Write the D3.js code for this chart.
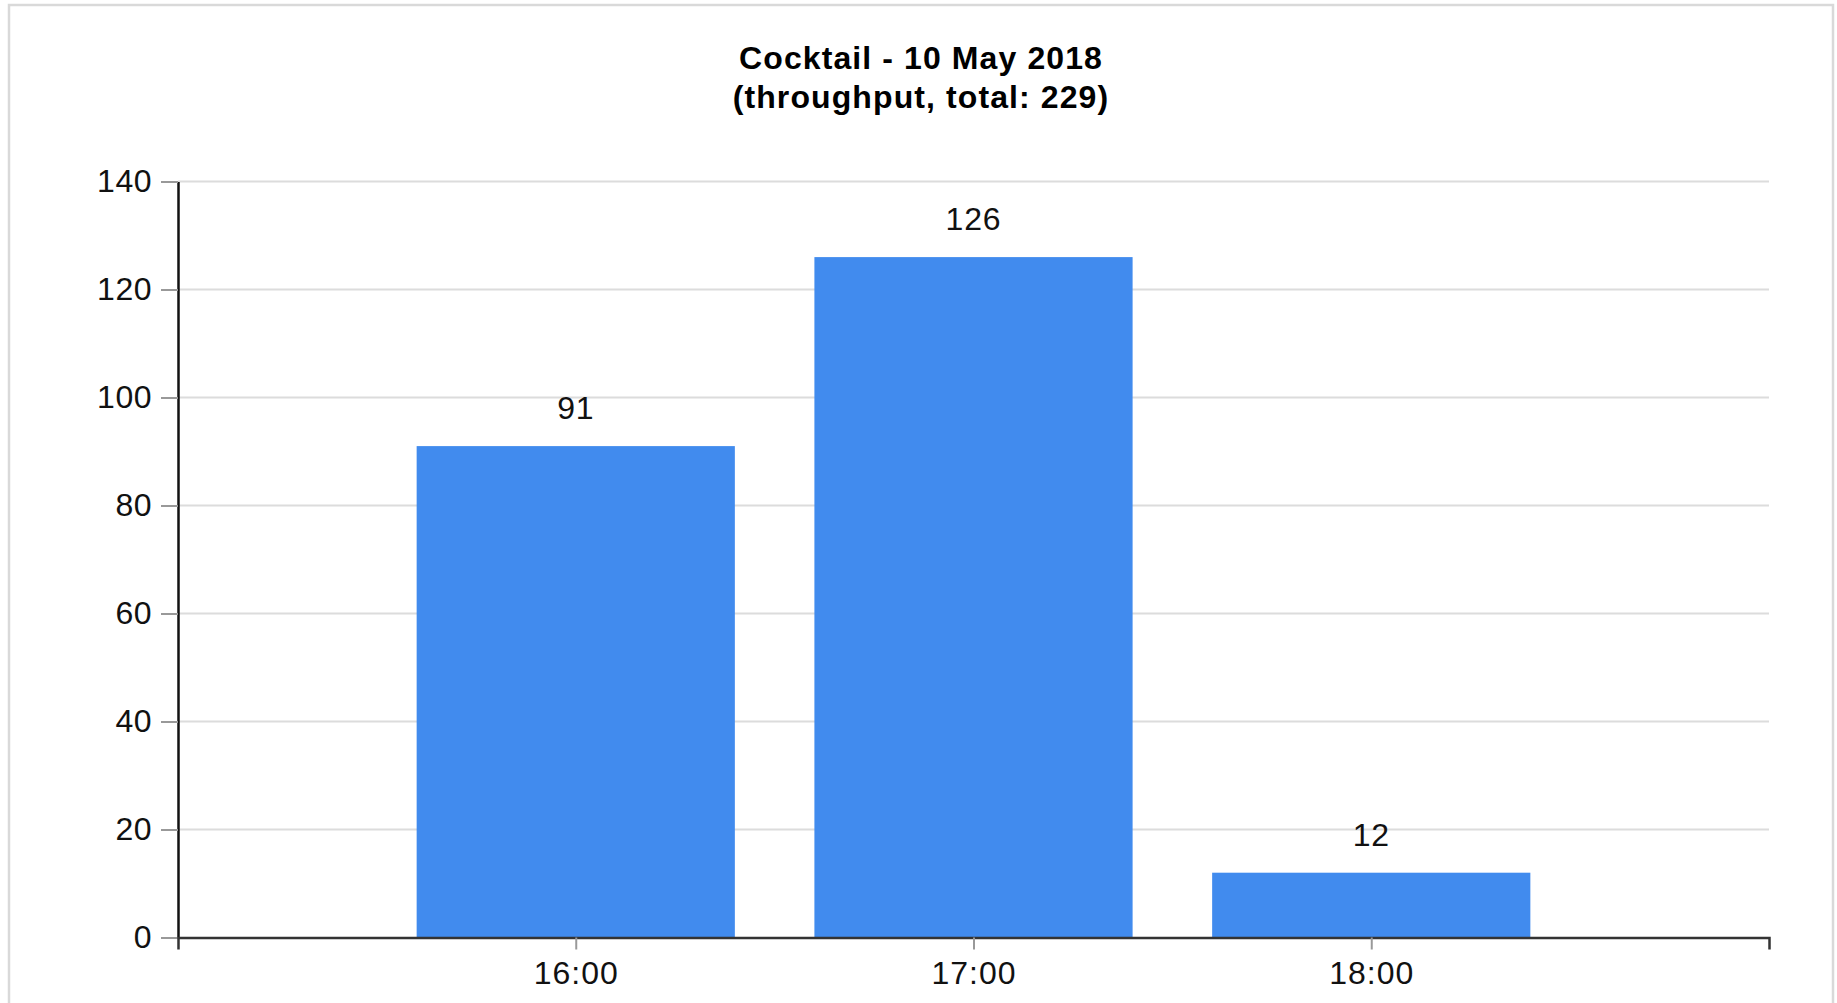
<!DOCTYPE html>
<html>
<head>
<meta charset="utf-8">
<script src="https://cdn.jsdelivr.net/npm/d3@7"></script>
<style>
  html, body { margin: 0; padding: 0; background: #fff; }
  svg { display: block; }
  text { font-family: "Liberation Sans", Arial, sans-serif; }
</style>
</head>
<body>
<svg id="chart" width="1837" height="1003"></svg>
<script>
const titleLines = ["Cocktail - 10 May 2018", "(throughput, total: 229)"];
const hours = [16, 17, 18];
const hourLabels = ["16:00", "17:00", "18:00"];
const values = [91, 126, 12];
const yTicks = [0, 20, 40, 60, 80, 100, 120, 140];

const W = 1837, H = 1003;
const plot = { left: 178, right: 1769, top: 181.5, bottom: 937.5 };
const FS = 32;

const svg = d3.select("#chart");

// outer frame
svg.append("rect")
  .attr("x", 9).attr("y", 5)
  .attr("width", 1824).attr("height", 1020)
  .attr("fill", "#fff").attr("stroke", "#d9d9d9").attr("stroke-width", 2.5);

const x = d3.scaleLinear().domain([15, 19]).range([plot.left, plot.right]);
const y = d3.scaleLinear().domain([0, 140]).range([plot.bottom, plot.top]);
const step = x(16) - x(15);
const barW = step * 0.8;

// title
const title = svg.append("text")
  .attr("text-anchor", "middle")
  .attr("font-weight", "bold")
  .attr("font-size", 32)
  .attr("letter-spacing", 1.1)
  .attr("fill", "#000");
titleLines.forEach((t, i) => {
  title.append("tspan").attr("x", 921).attr("y", 69 + i * 39).text(t);
});

// grid lines
svg.append("g").selectAll("line")
  .data(yTicks.filter(d => d > 0))
  .join("line")
  .attr("x1", plot.left).attr("x2", plot.right)
  .attr("y1", d => y(d)).attr("y2", d => y(d))
  .attr("stroke", "#dcdcdc").attr("stroke-width", 2);

// bars
svg.append("g").selectAll("rect")
  .data(values)
  .join("rect")
  .attr("x", (d, i) => x(hours[i]) - barW / 2)
  .attr("y", d => y(d))
  .attr("width", barW)
  .attr("height", d => y(0) - y(d))
  .attr("fill", "#418bee");

// value labels
svg.append("g").selectAll("text")
  .data(values)
  .join("text")
  .attr("x", (d, i) => x(hours[i]))
  .attr("y", d => y(d) - 27)
  .attr("text-anchor", "middle")
  .attr("font-size", FS)
  .attr("letter-spacing", 0.8)
  .attr("fill", "#111")
  .text(d => d);

// y axis
const yAxis = d3.axisLeft(y).tickValues(yTicks).tickSize(17).tickSizeOuter(0).tickPadding(9);
const gy = svg.append("g").attr("transform", `translate(${plot.left},0)`).call(yAxis);
gy.selectAll(".tick line").attr("stroke", "#999").attr("stroke-width", 2);
gy.select(".domain").attr("stroke", "#111").attr("stroke-width", 2.5);
gy.selectAll(".tick text").attr("font-size", FS).attr("letter-spacing", 0.5).attr("fill", "#111").attr("font-family", "Liberation Sans, Arial, sans-serif");

// x axis
const xAxis = d3.axisBottom(x).tickValues(hours).tickFormat((d, i) => hourLabels[i])
  .tickSize(12).tickSizeOuter(12).tickPadding(12);
const gx = svg.append("g").attr("transform", `translate(0,${plot.bottom})`).call(xAxis);
gx.selectAll(".tick line").attr("stroke", "#999").attr("stroke-width", 2);
gx.select(".domain").attr("stroke", "#333").attr("stroke-width", 2.5);
gx.selectAll(".tick text").attr("font-size", FS).attr("letter-spacing", 1).attr("fill", "#111").attr("font-family", "Liberation Sans, Arial, sans-serif");
</script>
</body>
</html>
